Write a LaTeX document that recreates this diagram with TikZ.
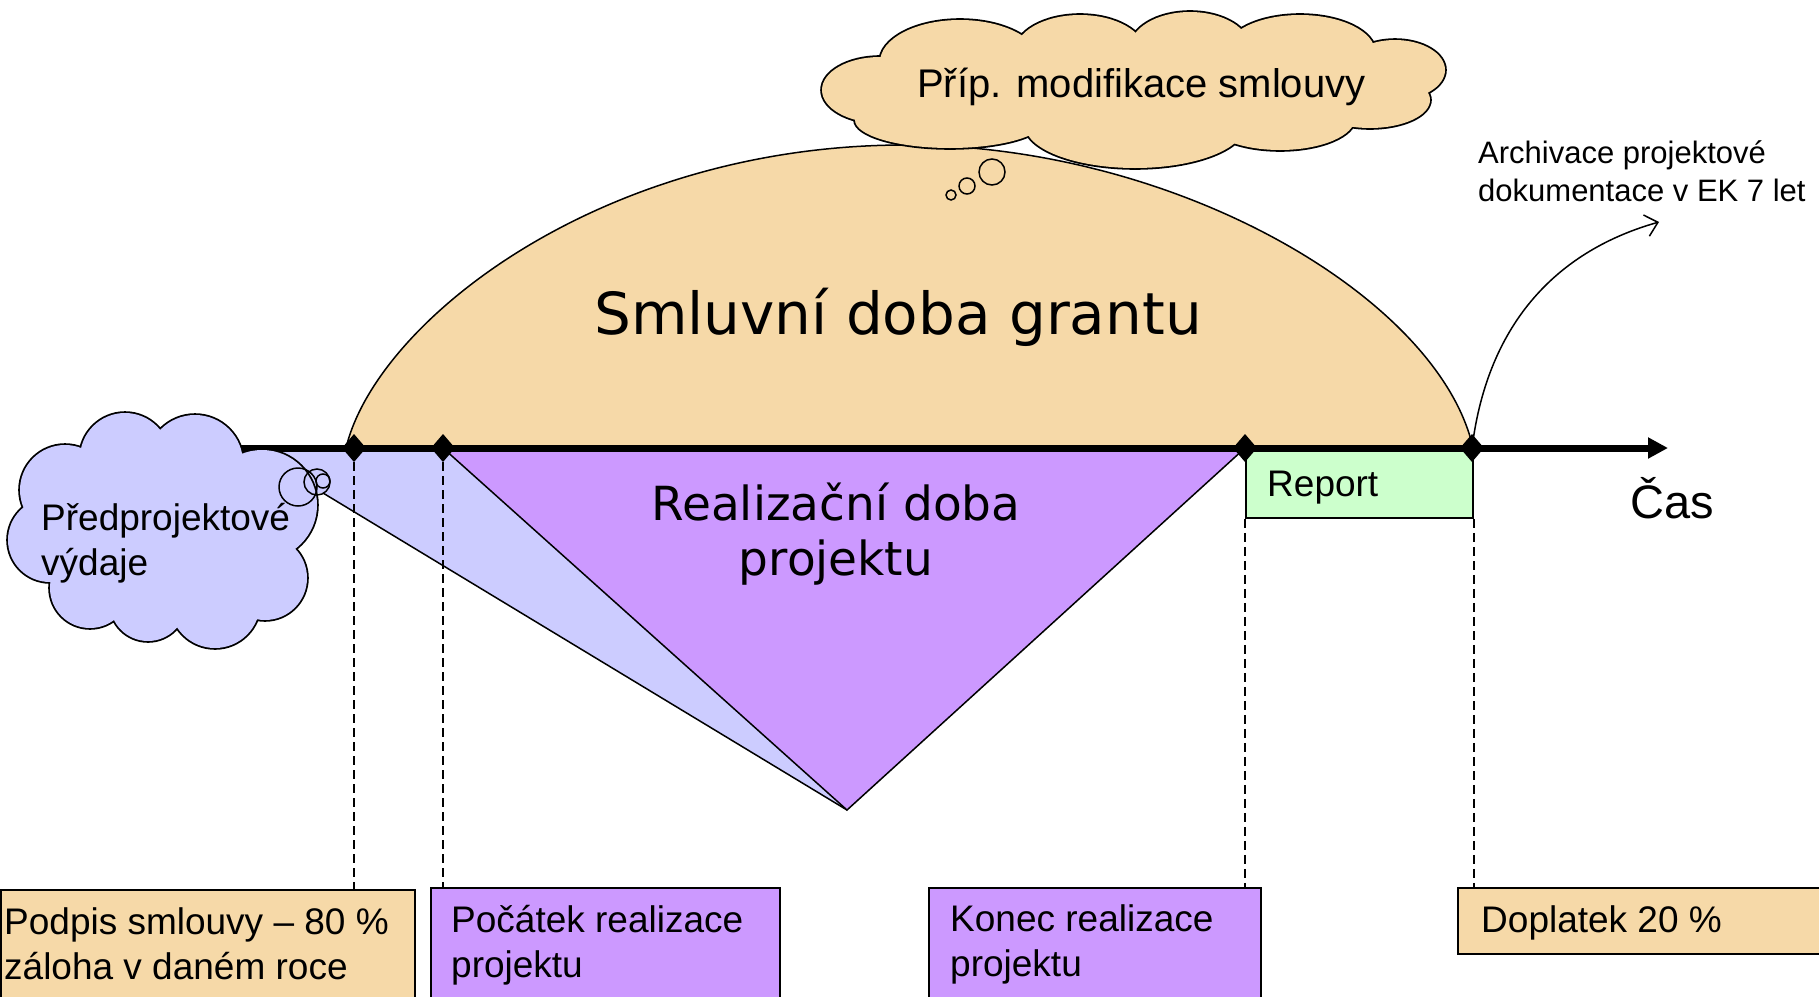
\documentclass[tikz,border=0pt]{standalone}
\usepackage{fontspec}
\setmainfont{Liberation Sans}
\newfontfamily\dejavu{DejaVu Sans}
\usetikzlibrary{arrows.meta}
\definecolor{tanc}{HTML}{F6D9A8}
\definecolor{purc}{HTML}{CC99FF}
\definecolor{bluc}{HTML}{CCCCFF}
\definecolor{grnc}{HTML}{CCFFCC}
\tikzset{
  outl/.style={draw=black, line width=1.5pt},
  dashline/.style={draw=black, line width=1.5pt, dash pattern=on 9pt off 5pt},
  boxr/.style={rectangle, draw=black, line width=1.8pt, inner sep=0pt, anchor=north west},
  lbl/.style={inner sep=0pt, align=left, font=\fontsize{37}{45}\selectfont},
  cloudline/.style={draw=black, line width=3.6pt},
  bubble/.style={circle, draw=black, line width=1.5pt, inner sep=0pt},
  pt/.style={inner sep=0pt, minimum size=0pt}
}
\newcommand{\mydiam}[1]{\fill (#1) ++(-12,0) -- ++(12,-14) -- ++(12,14) -- ++(-12,14) -- cycle;}
\newcommand{\myell}[4]{(#1,#2) ellipse [x radius=#3pt, y radius=#4pt]}
\newcommand{\leftcloudpath}{\myell{65}{490}{45}{45} \myell{125}{458}{45}{45} \myell{195}{463}{48}{48}
  \myell{262}{505}{55}{55} \myell{265}{578}{42}{42} \myell{215}{603}{45}{45} \myell{148}{603}{38}{38}
  \myell{90}{588}{40}{40} \myell{50}{540}{42}{42} \myell{165}{530}{100}{90}}
\newcommand{\topcloudpath}{\myell{880}{90}{58}{33} \myell{950}{120}{95}{28} \myell{1135}{125}{110}{43}
  \myell{1280}{118}{75}{32} \myell{1370}{100}{60}{28} \myell{1395}{70}{50}{30} \myell{1300}{52}{75}{37}
  \myell{1190}{48}{60}{36} \myell{1080}{52}{65}{37} \myell{960}{62}{80}{42} \myell{1130}{90}{250}{45}}
\begin{document}
\begin{tikzpicture}[x=1pt,y=-1pt]
\clip (0,0) rectangle (1819,996);
\fill[white] (0,0) rectangle (1819,996);
% coordinates
\coordinate (ax0) at (232,448);
\coordinate (ax1) at (1668,448);
\coordinate (v) at (847,810);
\coordinate (tail) at (323,493);
\node[pt] (d1) at (354,448) {};
\node[pt] (d2) at (443,448) {};
\node[pt] (d3) at (1245,448) {};
\node[pt] (d4) at (1472,448) {};
\coordinate (gl) at (346,448);
\coordinate (gtop) at (905,145);
\coordinate (gr) at (1473,448);
% grant dome
\draw[outl, fill=tanc] (gl) .. controls (376,322) and (600,145) .. (gtop)
   .. controls (1180,145) and (1440,300) .. (gr) -- cycle;
\node[font=\dejavu\fontsize{58}{64}\selectfont, anchor=base, inner sep=0pt] (grant) at (898,334) {Smluvní doba grantu};
% blue pre-project region
\fill[bluc] (230,448) -- (d2.center) -- (v) -- (tail) -- (230,493) -- cycle;
\draw[outl] (tail) -- (v);
% purple triangle
\draw[outl, fill=purc] (d2.center) -- (v) -- (d3.center) -- cycle;
\node[font=\dejavu\fontsize{47}{55}\selectfont, align=center, anchor=base, inner sep=0pt] (real) at (836,575) {Realizační doba\\projektu};
% report box
\node[boxr, fill=grnc, minimum width=227pt, minimum height=69pt] (rep) at (1245,448) {};
\node[lbl, anchor=base west] (reptxt) at (1267,496) {Report};
% axis
\draw[line width=7pt, -{Triangle[length=20pt,width=20pt]}] (ax0) -- (ax1);
\mydiam{d1}
\mydiam{d2}
\mydiam{d3}
\mydiam{d4}
\node[font=\fontsize{47}{55}\selectfont, anchor=base west, inner sep=0pt] (cas) at (1630,518) {Čas};
% archive arrow
\node[font=\fontsize{31}{38}\selectfont, align=left, anchor=base west, inner sep=0pt] (arch) at (1478,201) {Archivace projektové\\dokumentace v EK 7 let};
\coordinate (archend) at (1659,222);
\draw[line width=1.5pt, -{Straight Barb[length=12pt,width=22pt]}] (d4.center) .. controls (1488,320) and (1560,250) .. (archend);
% bottom boxes
\node[boxr, fill=tanc, minimum width=414pt, minimum height=130pt] (b1) at (0,889) {};
\node[boxr, fill=purc, minimum width=349pt, minimum height=130pt] (b2) at (430,887) {};
\node[boxr, fill=purc, minimum width=332pt, minimum height=130pt] (b3) at (928,887) {};
\node[boxr, fill=tanc, minimum width=380pt, minimum height=66pt] (b4) at (1457,887) {};
\node[lbl, anchor=base west] (t1) at (4,979) {Podpis smlouvy – 80 \%\\záloha v daném roce};
\node[lbl, anchor=base west] (t2) at (451,977) {Počátek realizace\\projektu};
\node[lbl, anchor=base west] (t3) at (950,976) {Konec realizace\\projektu};
\node[lbl, anchor=base west] (t4) at (1481,932) {Doplatek 20 \%};
% dashed drop lines
\draw[dashline] (d1) ++(0,14) -- (d1 |- b1.north);
\draw[dashline] (d2) ++(0,14) -- (d2 |- b2.north);
\draw[dashline] (rep.south west) -- (rep.south west |- b3.north);
\draw[dashline] (rep.south east) -- (rep.south east |- b4.north);
% left cloud
\draw[cloudline] \leftcloudpath;
\fill[bluc] \leftcloudpath;
\node[lbl, anchor=base west] (c1txt) at (41,575) {Předprojektové\\výdaje};
\node[bubble, minimum size=38pt] (c1a) at (298,487) {};
\node[bubble, minimum size=26pt] (c1b) at (317,482) {};
\node[bubble, minimum size=14pt] (c1c) at (323,481) {};
% top cloud
\draw[cloudline] \topcloudpath;
\fill[tanc] \topcloudpath;
\node[font=\fontsize{40}{48}\selectfont, anchor=base west, inner sep=0pt] (c2txt) at (917,97) {Příp. modifikace smlouvy};
\node[bubble, fill=tanc, minimum size=26pt] (c2a) at (992,172) {};
\node[bubble, fill=tanc, minimum size=16pt] (c2b) at (967,186) {};
\node[bubble, fill=tanc, minimum size=10pt] (c2c) at (951,195) {};
\end{tikzpicture}
\end{document}
